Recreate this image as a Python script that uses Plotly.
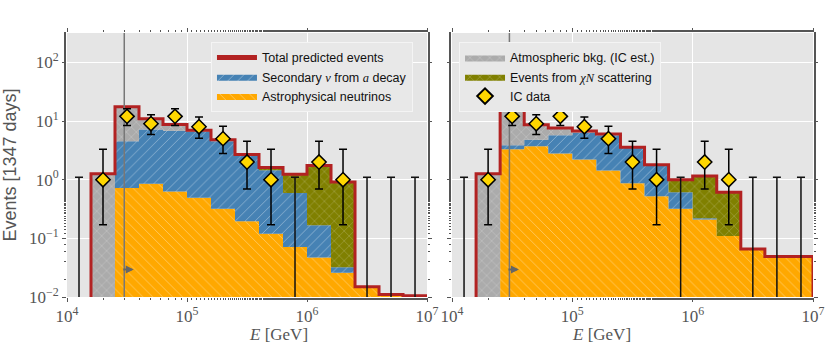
import numpy as np
import plotly.graph_objects as go

# bin edges, log10(E / GeV)
edges_log = [4.0, 4.2, 4.4, 4.6, 4.8, 5.0, 5.2, 5.4, 5.6, 5.8, 6.0, 6.2, 6.4, 6.6, 6.8, 7.0]

# atmospheric background (IC estimate), same in both panels
atm_bkg = [0, 1.26, 13.0, 3.8, 1.9, 0.45, 0.25, 0.1, 0.05, 0, 0, 0, 0, 0, 0]

# left panel model
astro_left = [0, 0, 0.72, 0.85, 0.63, 0.49, 0.32, 0.195, 0.12, 0.071, 0.047, 0.026, 0.015, 0.011, 0.0105]
secondary_left = [0, 0, 3.8, 6.3, 6.2, 6.0, 4.2, 2.4, 1.33, 0.52, 0.12, 0.006, 0, 0, 0]
chin_left = [0, 0, 0, 0, 0, 0, 0, 0, 0.12, 0.65, 1.58, 0.88, 0, 0, 0]

# right panel model
astro_right = [0, 0, 3.3, 3.7, 2.8, 2.2, 1.44, 0.87, 0.52, 0.32, 0.21, 0.11, 0.066, 0.049, 0.049]
secondary_right = [0, 0, 0.55, 1.1, 2.9, 4.1, 4.3, 2.6, 1.2, 0.29, 0.01, 0, 0, 0, 0]
chin_right = [0, 0, 0, 0, 0, 0, 0, 0, 0.03, 0.39, 0.93, 0.5, 0, 0, 0]

# IceCube data (counts per bin, with lower / upper ends of the error bars)
ic_counts = [0, 1, 12, 9, 12, 8, 5, 2, 1, 0, 2, 1, 0, 0, 0]
ic_low = [0, 0.17, 8.4, 5.9, 8.4, 5.1, 2.8, 0.69, 0.17, 0, 0.69, 0.17, 0, 0, 0]
ic_high = [1.1, 3.3, 16.1, 12.8, 16.1, 11.7, 8.1, 4.5, 3.3, 1.1, 4.5, 3.3, 1.1, 1.1, 1.1]

threshold = 3e4   # vertical line

FLOOR = 1e-4
edges = [10 ** e for e in edges_log]
centers = [10 ** ((a + b) / 2) for a, b in zip(edges_log[:-1], edges_log[1:])]

BLUE = '#4682B4'
ORANGE = '#FFA800'
GRAY = '#ABABAB'
OLIVE = '#808000'
RED = '#B22222'
SERIF = "font-family:'Liberation Serif'"

fig = go.Figure()


def step_y(vals):
    return [max(v, FLOOR) for v in vals] + [FLOOR]


def add_panel(n, astro, secondary, chin):
    xa, ya = ('x', 'y') if n == 1 else ('x2', 'y2')
    fig.add_trace(go.Scatter(x=edges, y=[FLOOR] * len(edges), mode='lines', line=dict(width=0, shape='hv'),
                             showlegend=False, hoverinfo='skip', xaxis=xa, yaxis=ya))
    layers = [
        ('Astrophysical neutrinos', astro, ORANGE, '\\', 'legend', 3),
        (f'Secondary <span style="{SERIF}"><i>ν</i></span> from <span style="{SERIF}"><i>a</i></span> decay',
         secondary, BLUE, '/', 'legend', 2),
        (f'Events from <span style="{SERIF}"><i>χN</i></span> scattering', chin, OLIVE, 'x', 'legend2', 2),
        ('Atmospheric bkg. (IC est.)', atm_bkg, GRAY, 'x', 'legend2', 1),
    ]
    cum = np.zeros(len(astro))
    for name, vals, col, shp, leg, rank in layers:
        cum = cum + np.array(vals)
        show = (leg == 'legend' and n == 1) or (leg == 'legend2' and n == 2)
        fig.add_trace(go.Scatter(
            x=edges, y=step_y(cum), mode='lines', line=dict(width=0, shape='hv'),
            fill='tonexty', fillcolor=col,
            fillpattern=dict(shape=shp, fgcolor='rgba(255,255,255,0.4)', bgcolor=col,
                             size=7, solidity=0.12, fillmode='replace'),
            name=name, showlegend=show, legend=leg, legendrank=rank,
            xaxis=xa, yaxis=ya))
    fig.add_trace(go.Scatter(
        x=edges, y=step_y(cum), mode='lines', line=dict(color=RED, width=3, shape='hv'),
        name='Total predicted events', showlegend=(n == 1), legend='legend', legendrank=1,
        xaxis=xa, yaxis=ya))
    fig.add_trace(go.Scatter(x=[threshold, threshold], y=[FLOOR, 1e4], mode='lines',
                             line=dict(color='#777777', width=1.5), showlegend=False,
                             xaxis=xa, yaxis=ya))
    # zero-count bins: upper limits only
    zx = [c for c, k in zip(centers, ic_counts) if k == 0]
    zy = [h for h, k in zip(ic_high, ic_counts) if k == 0]
    fig.add_trace(go.Scatter(
        x=zx, y=zy, mode='markers', marker=dict(size=1, color='rgba(0,0,0,0)'),
        error_y=dict(type='data', symmetric=False, array=[0] * len(zy),
                     arrayminus=[v - 1e-5 for v in zy], color='#111111', thickness=1.5, width=4),
        showlegend=False, xaxis=xa, yaxis=ya))
    dx = [c for c, k in zip(centers, ic_counts) if k > 0]
    dy = [k for k in ic_counts if k > 0]
    dlo = [k - lo for k, lo in zip(ic_counts, ic_low) if k > 0]
    dhi = [hi - k for k, hi in zip(ic_counts, ic_high) if k > 0]
    fig.add_trace(go.Scatter(
        x=dx, y=dy, mode='markers',
        marker=dict(symbol='diamond', size=11, color='#FFD700', line=dict(color='black', width=1.5)),
        error_y=dict(type='data', symmetric=False, array=dhi, arrayminus=dlo,
                     color='black', thickness=1.5, width=4),
        name='IC data', showlegend=(n == 2), legend='legend2', legendrank=3,
        xaxis=xa, yaxis=ya))


add_panel(1, astro_left, secondary_left, chin_left)
add_panel(2, astro_right, secondary_right, chin_right)

tick_font = dict(family='Liberation Serif', size=17, color='#555555')
xticks = [1e4, 1e5, 1e6, 1e7]
xtext = ['10<sup>4</sup>', '10<sup>5</sup>', '10<sup>6</sup>', '10<sup>7</sup>']
yticks = [1e-2, 1e-1, 1, 10, 100]
ytext = ['10<sup>−2</sup>', '10<sup>−1</sup>', '10<sup>0</sup>', '10<sup>1</sup>', '10<sup>2</sup>']

common = dict(type='log', showgrid=True, gridcolor='white', gridwidth=1, zeroline=False,
              showline=False, ticks='outside', ticklen=4, tickcolor='#555555', tickwidth=1,
              mirror='ticks', tickfont=tick_font, automargin=False,
              minor=dict(ticks='outside', ticklen=2, tickcolor='#555555', showgrid=False))

legend_style = dict(yanchor='top', xanchor='left', bgcolor='#E8E8E8', bordercolor='#F4F4F4',
                    borderwidth=1, itemwidth=40, traceorder='normal', itemsizing='constant',
                    tracegroupgap=0,
                    font=dict(family='Liberation Sans', size=12.5, color='#111111'))

xdom1 = [0, 0.4826]
xdom2 = [0.5161, 1]
xtitle_font = dict(family='Liberation Serif', size=17, color='#555555')

fig.update_layout(
    width=830, height=350,
    paper_bgcolor='white', plot_bgcolor='#E5E5E5',
    margin=dict(l=67, r=17, t=33, b=53),
    xaxis=dict(common, domain=xdom1, range=[4, 7], tickvals=xticks, ticktext=xtext, anchor='y'),
    xaxis2=dict(common, domain=xdom2, range=[4, 7], tickvals=xticks, ticktext=xtext, anchor='y2'),
    yaxis=dict(common, range=[-2, 2.5], tickvals=yticks, ticktext=ytext, anchor='x',
               title=dict(text='Events [1347 days]',
                          font=dict(family='Liberation Sans', size=18, color='#555555'))),
    yaxis2=dict(common, range=[-2, 2.5], tickvals=yticks, ticktext=ytext, anchor='x2',
                showticklabels=False),
    legend=dict(legend_style, x=0.193, y=0.966),
    legend2=dict(legend_style, x=0.5255, y=0.966),
    annotations=[
        dict(x=sum(xdom1) / 2, y=0, xref='paper', yref='paper', yanchor='top', yshift=-26,
             text='<i>E</i> [GeV]', showarrow=False, font=xtitle_font),
        dict(x=sum(xdom2) / 2, y=0, xref='paper', yref='paper', yanchor='top', yshift=-26,
             text='<i>E</i> [GeV]', showarrow=False, font=xtitle_font),
        dict(x=np.log10(3.6e4), y=-1.53, xref='x', yref='y', ax=-12, ay=0, text='',
             showarrow=True, arrowhead=2, arrowsize=0.8, arrowwidth=2, arrowcolor='#666666'),
        dict(x=np.log10(3.6e4), y=-1.53, xref='x2', yref='y2', ax=-12, ay=0, text='',
             showarrow=True, arrowhead=2, arrowsize=0.8, arrowwidth=2, arrowcolor='#666666'),
    ],
)

fig.write_html("out.html", config={'displayModeBar': False},
               post_script="document.body.style.margin='0';")
